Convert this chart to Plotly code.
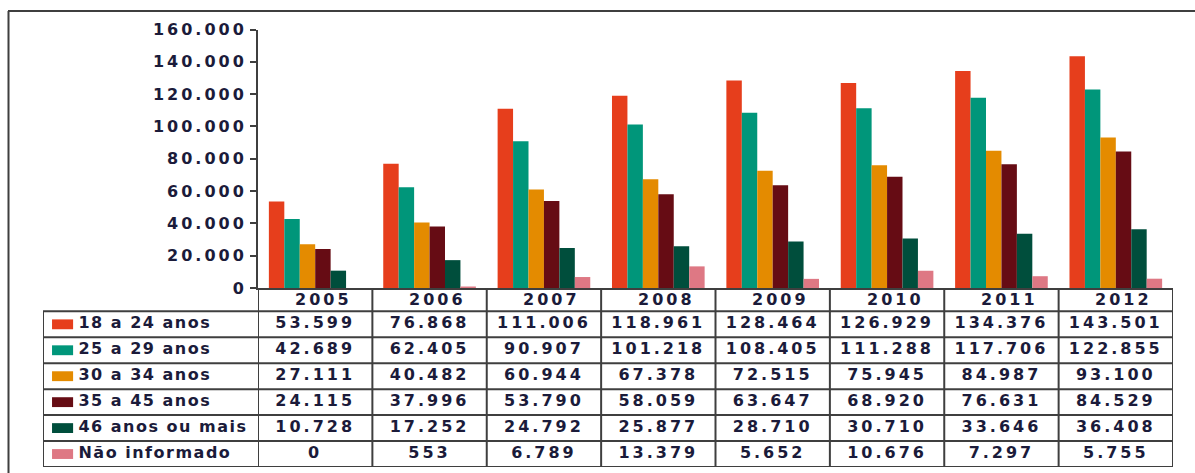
import plotly.graph_objects as go

# ---------------- data ----------------
years = ["2005", "2006", "2007", "2008", "2009", "2010", "2011", "2012"]
series_names = ["18 a 24 anos", "25 a 29 anos", "30 a 34 anos",
                "35 a 45 anos", "46 anos ou mais", "Não informado"]
v_18_24 = [53599, 76868, 111006, 118961, 128464, 126929, 134376, 143501]
v_25_29 = [42689, 62405, 90907, 101218, 108405, 111288, 117706, 122855]
v_30_34 = [27111, 40482, 60944, 67378, 72515, 75945, 84987, 93100]
v_35_45 = [24115, 37996, 53790, 58059, 63647, 68920, 76631, 84529]
v_46_mais = [10728, 17252, 24792, 25877, 28710, 30710, 33646, 36408]
v_nao_inf = [0, 553, 6789, 13379, 5652, 10676, 7297, 5755]
y_tickvals = [0, 20000, 40000, 60000, 80000, 100000, 120000, 140000, 160000]

series_values = [v_18_24, v_25_29, v_30_34, v_35_45, v_46_mais, v_nao_inf]
colors = ["#E63E1C", "#00967A", "#E48B00", "#660C14", "#004E3C", "#DE7884"]

# ---------------- styling ----------------
W, H = 1195, 473
LINE = "#3f3f3f"
TXT = "#1b1b3a"
FONT = dict(family="DejaVu Sans", size=16, color=TXT, weight="bold")


def fmt(v):
    return f"{v:,}".replace(",", ".")


def spaced(t, px=3):
    return f"<span style='letter-spacing:{px}px'>{t}</span>"


def px_x(p):
    return p / W


def px_y(p):
    return 1 - p / H


PLOT_L, PLOT_R = 258, 1173
PLOT_T, PLOT_B = 29.5, 288
TAB_B = 467
LAB_L = 43
HEAD_TOP = -0.4   # header row is a little shorter than the data rows
N_ROWS = len(series_names)

fig = go.Figure()

# bars
for name, vals, col in zip(series_names, series_values, colors):
    fig.add_trace(go.Bar(x=years, y=vals, name=name, marker=dict(color=col, line=dict(width=0)),
                         xaxis="x", yaxis="y", hoverinfo="x+y+name"))

# table values
for r, vals in enumerate(series_values, start=1):
    fig.add_trace(go.Scatter(x=years, y=[r] * len(years), mode="text",
                             text=[spaced(fmt(v)) for v in vals], textfont=FONT,
                             textposition="middle center", xaxis="x", yaxis="y2",
                             hoverinfo="skip", showlegend=False))

# row labels
fig.add_trace(go.Scatter(x=[0.165] * N_ROWS, y=list(range(1, N_ROWS + 1)),
                         mode="text", text=[spaced(n, 1.5) for n in series_names],
                         textfont=FONT, textposition="middle right",
                         xaxis="x3", yaxis="y2", hoverinfo="skip", showlegend=False))

# table header (years) as annotations (category index), slightly right of centre
annotations = []
for i, yr in enumerate(years):
    annotations.append(dict(x=i, y=(HEAD_TOP + 0.5) / 2, xref="x", yref="y2",
                            text=spaced(yr), showarrow=False, font=FONT,
                            xanchor="center", yanchor="middle", xshift=8))

shapes = []
# legend swatches
for r, col in enumerate(colors, start=1):
    shapes.append(dict(type="rect", xref="x3", yref="y2", x0=0.042, x1=0.14,
                       y0=r - 0.19, y1=r + 0.19, fillcolor=col, line=dict(width=0), layer="above"))

# table grid: vertical column lines
for i in range(len(years) + 1):
    shapes.append(dict(type="line", xref="x", yref="y2", x0=i - 0.5, x1=i - 0.5,
                       y0=HEAD_TOP, y1=N_ROWS + 0.5, line=dict(color=LINE, width=2)))
# horizontal row lines
for r in range(N_ROWS + 1):
    shapes.append(dict(type="line", xref="paper", yref="y2", x0=px_x(LAB_L), x1=px_x(PLOT_R),
                       y0=r + 0.5, y1=r + 0.5, line=dict(color=LINE, width=2)))
# label column left border
shapes.append(dict(type="line", xref="x3", yref="y2", x0=0, x1=0, y0=0.5,
                   y1=N_ROWS + 0.5, line=dict(color=LINE, width=2)))
# outer chart frame (top and left)
shapes.append(dict(type="line", xref="paper", yref="paper", x0=px_x(8), x1=1,
                   y0=px_y(11), y1=px_y(11), line=dict(color=LINE, width=2)))
shapes.append(dict(type="line", xref="paper", yref="paper", x0=px_x(8.5), x1=px_x(8.5),
                   y0=0, y1=px_y(11), line=dict(color=LINE, width=2)))

fig.update_layout(
    width=W, height=H,
    margin=dict(l=0, r=0, t=0, b=0, pad=0, autoexpand=False),
    paper_bgcolor="white", plot_bgcolor="white",
    showlegend=False,
    barmode="group", bargap=0.19, bargroupgap=0,
    separators=",.",
    shapes=shapes,
    annotations=annotations,
    xaxis=dict(domain=[px_x(PLOT_L), px_x(PLOT_R)], type="category", categoryorder="array",
               categoryarray=years, range=[-0.5, len(years) - 0.5], showticklabels=False,
               showline=True, linecolor=LINE, linewidth=2, ticks="", showgrid=False,
               zeroline=False, anchor="y", fixedrange=True, automargin=False),
    yaxis=dict(domain=[px_y(PLOT_B), px_y(PLOT_T)], range=[0, 160000],
               tickvals=y_tickvals, ticktext=[spaced(fmt(v)) for v in y_tickvals],
               ticks="outside", ticklen=6, tickwidth=1.5, tickcolor=LINE,
               showline=True, linecolor=LINE, linewidth=2, showgrid=False, zeroline=False,
               tickfont=FONT, anchor="x", fixedrange=True, automargin=False),
    yaxis2=dict(domain=[px_y(TAB_B), px_y(PLOT_B)], range=[N_ROWS + 0.5, HEAD_TOP],
                visible=False, anchor="x", fixedrange=True, automargin=False),
    xaxis3=dict(domain=[px_x(LAB_L), px_x(PLOT_L)], range=[0, 1], visible=False,
                anchor="y2", fixedrange=True, automargin=False),
)

fig.write_html("out.html")
